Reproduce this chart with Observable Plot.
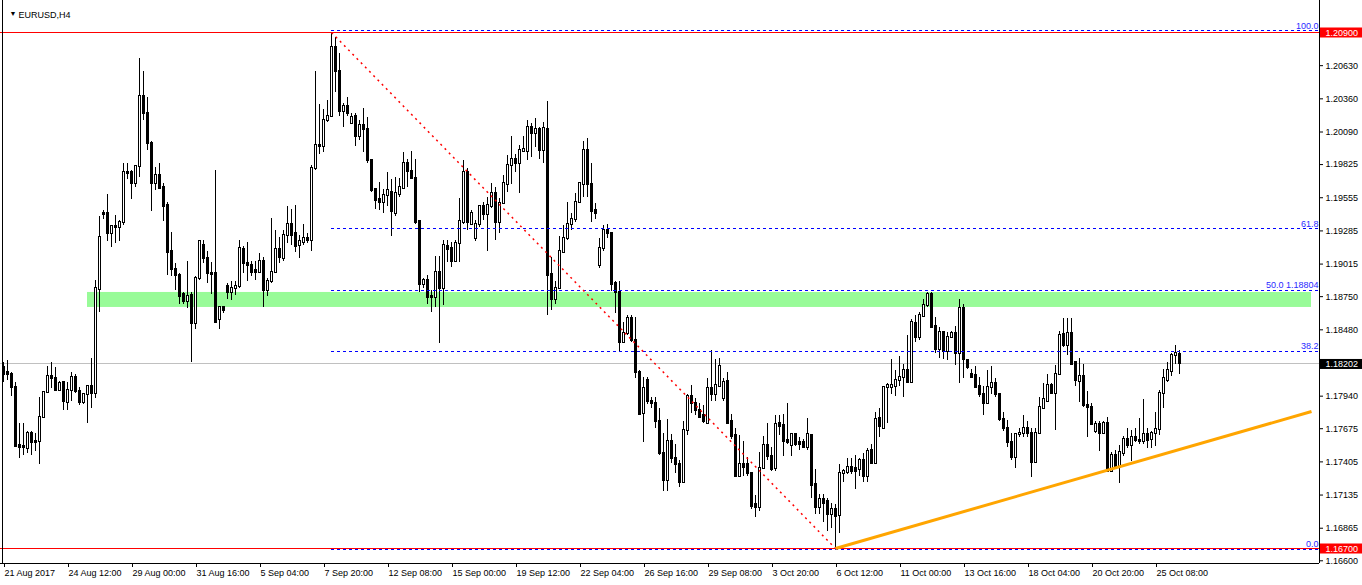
<!DOCTYPE html>
<html><head><meta charset="utf-8">
<script src="https://cdn.jsdelivr.net/npm/d3@7"></script>
<script src="https://cdn.jsdelivr.net/npm/@observablehq/plot@0.6"></script>
<style>html,body{margin:0;padding:0;background:#fff;}#chart svg{display:block;}</style>
</head><body><div id="chart"></div>
<script>
const symbol = "EURUSD,H4";

const open = [
1.1817,1.1813,1.1812,1.1801,1.1754,1.1753,1.1751,1.1764,1.1757,1.1757,
1.1777,1.1797,1.1810,1.1808,1.1799,1.1805,1.1789,1.1799,1.1809,1.1798,
1.1789,1.1795,1.1802,1.1796,1.1881,1.1943,1.1943,1.1926,1.1932,1.1931,
1.1935,1.1976,1.1976,1.1967,1.1981,1.2038,1.2024,1.2000,1.1967,1.1974,
1.1964,1.1949,1.1912,1.1897,1.1892,1.1877,1.1871,1.1876,1.1853,1.1890,
1.1917,1.1906,1.1894,1.1894,1.1856,1.1866,1.1883,1.1878,1.1882,1.1883,
1.1913,1.1902,1.1900,1.1896,1.1895,1.1904,1.1880,1.1887,1.1895,1.1913,
1.1906,1.1925,1.1934,1.1926,1.1917,1.1919,1.1922,1.1921,1.1979,1.1998,
1.1997,1.2018,1.2022,1.2078,1.2058,1.2026,1.2030,1.2016,1.2022,1.2005,
1.2014,1.2011,1.1986,1.1962,1.1954,1.1952,1.1957,1.1960,1.1943,1.1958,
1.1963,1.1983,1.1977,1.1971,1.1936,1.1885,1.1888,1.1875,1.1874,1.1895,
1.1882,1.1916,1.1914,1.1904,1.1918,1.1935,1.1976,1.1934,1.1922,1.1934,
1.1948,1.1942,1.1948,1.1959,1.1935,1.1951,1.1966,1.1982,1.1987,1.1983,
1.1993,1.1993,1.2013,1.2008,1.2011,1.1994,1.2011,1.1893,1.1873,1.1882,
1.1911,1.1922,1.1934,1.1938,1.1952,1.1966,1.1994,1.1966,1.1945,1.1900,
1.1914,1.1929,1.1926,1.1886,1.1878,1.1838,1.1845,1.1857,1.1839,1.1813,
1.1780,1.1807,1.1790,1.1788,1.1773,1.1747,1.1725,1.1757,1.1743,1.1738,
1.1724,1.1766,1.1794,1.1788,1.1782,1.1778,1.1772,1.1800,1.1795,1.1802,
1.1792,1.1806,1.1773,1.1762,1.1729,1.1738,1.1738,1.1731,1.1706,1.1703,
1.1735,1.1754,1.1745,1.1735,1.1772,1.1770,1.1758,1.1754,1.1763,1.1756,
1.1756,1.1752,1.1762,1.1722,1.1703,1.1710,1.1708,1.1698,1.1702,1.1697,
1.1731,1.1732,1.1736,1.1735,1.1734,1.1742,1.1729,1.1750,1.1739,1.1776,
1.1768,1.1801,1.1801,1.1802,1.1807,1.1809,1.1815,1.1805,1.1853,1.1842,
1.1859,1.1868,1.1877,1.1851,1.1832,1.1846,1.1830,1.1842,1.1845,1.1829,
1.1865,1.1823,1.1812,1.1811,1.1802,1.1795,1.1788,1.1801,1.1804,1.1795,
1.1775,1.1768,1.1756,1.1744,1.1763,1.1764,1.1768,1.1764,1.1740,1.1764,
1.1784,1.1790,1.1803,1.1796,1.1812,1.1844,1.1835,1.1845,1.1821,1.1806,
1.1810,1.1786,1.1785,1.1765,1.1771,1.1764,1.1772,1.1733,1.1746,1.1736,
1.1747,1.1759,1.1754,1.1760,1.1758,1.1757,1.1763,1.1759,1.1764,1.1767,
1.1796,1.1807,1.1814,1.1827,1.1828];

const high = [
1.1821,1.1823,1.1813,1.1805,1.1772,1.1772,1.1765,1.1765,1.1764,1.1793,
1.1798,1.1818,1.1821,1.1817,1.1806,1.1806,1.1805,1.1813,1.1812,1.1801,
1.1796,1.1803,1.1825,1.1888,1.1940,1.1945,1.1958,1.1933,1.1941,1.1937,
1.1983,1.1983,1.1978,1.1982,1.2069,1.2058,1.2037,1.2001,1.1980,1.1983,
1.1967,1.1952,1.1927,1.1902,1.1894,1.1878,1.1904,1.1878,1.1891,1.1921,
1.1921,1.1912,1.1903,1.1978,1.1867,1.1867,1.1886,1.1887,1.1887,1.1921,
1.1916,1.1919,1.1904,1.1904,1.1910,1.1907,1.1890,1.1939,1.1929,1.1923,
1.1929,1.1948,1.1946,1.1949,1.1925,1.1934,1.1926,1.1982,1.2058,1.2031,
1.2027,1.2035,1.2090,1.2086,1.2073,1.2032,1.2037,1.2024,1.2024,1.2018,
1.2028,1.2021,1.1987,1.1963,1.1968,1.1962,1.1976,1.1970,1.1972,1.1971,
1.1992,1.1987,1.1993,1.1987,1.1937,1.1890,1.1892,1.1880,1.1908,1.1908,
1.1921,1.1921,1.1919,1.1921,1.1955,1.1986,1.1979,1.1945,1.1937,1.1949,
1.1952,1.1956,1.1967,1.1964,1.1955,1.1974,1.1990,1.2005,1.1991,1.1998,
1.2005,1.2018,1.2016,1.2020,1.2013,1.2017,1.2034,1.1907,1.1887,1.1924,
1.1933,1.1952,1.1943,1.1959,1.1968,1.2001,1.2004,1.1983,1.1951,1.1922,
1.1933,1.1934,1.1927,1.1887,1.1887,1.1854,1.1860,1.1860,1.1858,1.1815,
1.1809,1.1809,1.1793,1.1793,1.1784,1.1764,1.1775,1.1763,1.1755,1.1742,
1.1773,1.1795,1.1803,1.1792,1.1788,1.1786,1.1808,1.1831,1.1824,1.1825,
1.1808,1.1813,1.1779,1.1768,1.1762,1.1757,1.1744,1.1732,1.1713,1.1748,
1.1761,1.1772,1.1752,1.1778,1.1778,1.1779,1.1788,1.1764,1.1764,1.1760,
1.1759,1.1776,1.1763,1.1734,1.1714,1.1714,1.1711,1.1707,1.1706,1.1738,
1.1734,1.1743,1.1743,1.1746,1.1743,1.1747,1.1751,1.1755,1.1781,1.1784,
1.1802,1.1804,1.1824,1.1815,1.1826,1.1820,1.1843,1.1856,1.1860,1.1862,
1.1873,1.1878,1.1878,1.1858,1.1850,1.1847,1.1846,1.1847,1.1851,1.1873,
1.1869,1.1824,1.1816,1.1818,1.1809,1.1802,1.1815,1.1818,1.1808,1.1796,
1.1781,1.1774,1.1764,1.1764,1.1768,1.1778,1.1773,1.1768,1.1768,1.1793,
1.1804,1.1812,1.1804,1.1819,1.1847,1.1857,1.1857,1.1857,1.1822,1.1825,
1.1820,1.1798,1.1788,1.1773,1.1773,1.1773,1.1777,1.1748,1.1750,1.1754,
1.1761,1.1768,1.1766,1.1768,1.1776,1.1791,1.1768,1.1765,1.1781,1.1799,
1.1816,1.1821,1.1829,1.1835,1.1831];

const low = [
1.1805,1.1807,1.1794,1.1752,1.1743,1.1746,1.1747,1.1746,1.1749,1.1738,
1.1776,1.1796,1.1800,1.1798,1.1798,1.1782,1.1782,1.1790,1.1796,1.1786,
1.1787,1.1772,1.1784,1.1792,1.1862,1.1938,1.1920,1.1915,1.1918,1.1920,
1.1933,1.1970,1.1954,1.1964,1.1972,1.2018,1.1994,1.1944,1.1961,1.1962,
1.1936,1.1892,1.1891,1.1880,1.1869,1.1869,1.1865,1.1821,1.1848,1.1888,
1.1902,1.1886,1.1877,1.1853,1.1848,1.1861,1.1873,1.1872,1.1876,1.1882,
1.1894,1.1887,1.1891,1.1888,1.1894,1.1866,1.1875,1.1886,1.1894,1.1902,
1.1904,1.1918,1.1917,1.1911,1.1906,1.1917,1.1918,1.1912,1.1978,1.1991,
1.1992,1.2017,1.2021,1.2041,1.2022,1.2013,1.2022,1.2016,1.1997,1.2002,
1.1992,1.1983,1.1960,1.1946,1.1945,1.1943,1.1948,1.1924,1.1940,1.1956,
1.1963,1.1964,1.1970,1.1934,1.1878,1.1882,1.1869,1.1862,1.1866,1.1837,
1.1868,1.1903,1.1899,1.1903,1.1903,1.1934,1.1929,1.1934,1.1920,1.1931,
1.1937,1.1912,1.1947,1.1921,1.1926,1.1950,1.1960,1.1966,1.1976,1.1959,
1.1992,1.1986,1.1988,1.1996,1.1987,1.1983,1.1860,1.1864,1.1869,1.1881,
1.1910,1.1921,1.1929,1.1935,1.1951,1.1956,1.1956,1.1935,1.1938,1.1898,
1.1912,1.1922,1.1879,1.1861,1.1830,1.1837,1.1843,1.1838,1.1808,1.1778,
1.1756,1.1787,1.1784,1.1768,1.1746,1.1716,1.1716,1.1739,1.1731,1.1720,
1.1723,1.1762,1.1780,1.1778,1.1776,1.1772,1.1771,1.1790,1.1790,1.1801,
1.1790,1.1771,1.1759,1.1728,1.1728,1.1729,1.1729,1.1702,1.1695,1.1700,
1.1734,1.1742,1.1733,1.1733,1.1762,1.1745,1.1755,1.1745,1.1753,1.1750,
1.1751,1.1750,1.1711,1.1698,1.1698,1.1691,1.1684,1.1686,1.1670,1.1682,
1.1724,1.1730,1.1730,1.1718,1.1729,1.1724,1.1724,1.1738,1.1738,1.1760,
1.1767,1.1772,1.1795,1.1794,1.1802,1.1793,1.1804,1.1804,1.1838,1.1839,
1.1858,1.1866,1.1849,1.1829,1.1825,1.1824,1.1823,1.1841,1.1819,1.1804,
1.1808,1.1816,1.1808,1.1800,1.1793,1.1778,1.1787,1.1795,1.1793,1.1773,
1.1765,1.1752,1.1742,1.1735,1.1760,1.1760,1.1760,1.1728,1.1739,1.1763,
1.1783,1.1789,1.1795,1.1766,1.1811,1.1834,1.1827,1.1819,1.1802,1.1789,
1.1785,1.1760,1.1770,1.1764,1.1749,1.1763,1.1732,1.1732,1.1734,1.1723,
1.1745,1.1751,1.1741,1.1756,1.1755,1.1755,1.1751,1.1751,1.1753,1.1762,
1.1784,1.1805,1.1810,1.1820,1.1812];

const close = [
1.1812,1.1812,1.1801,1.1753,1.1752,1.1752,1.1764,1.1756,1.1756,1.1777,
1.1797,1.1810,1.1808,1.1799,1.1804,1.1790,1.1799,1.1809,1.1798,1.1789,
1.1795,1.1802,1.1796,1.1882,1.1923,1.1942,1.1926,1.1932,1.1931,1.1935,
1.1976,1.1975,1.1967,1.1981,1.2038,1.2024,1.2000,1.1967,1.1974,1.1963,
1.1948,1.1911,1.1897,1.1892,1.1875,1.1871,1.1875,1.1853,1.1890,1.1920,
1.1906,1.1894,1.1893,1.1854,1.1866,1.1864,1.1878,1.1882,1.1883,1.1914,
1.1902,1.1900,1.1895,1.1895,1.1904,1.1880,1.1887,1.1895,1.1913,1.1907,
1.1925,1.1934,1.1925,1.1916,1.1920,1.1922,1.1921,1.1979,1.1998,1.1997,
1.2018,1.2022,1.2078,1.2058,1.2026,1.2030,1.2024,1.2021,1.2005,1.2014,
1.2011,1.1986,1.1961,1.1953,1.1952,1.1957,1.1961,1.1944,1.1959,1.1964,
1.1983,1.1977,1.1971,1.1935,1.1885,1.1888,1.1874,1.1874,1.1895,1.1882,
1.1917,1.1913,1.1904,1.1918,1.1936,1.1976,1.1935,1.1943,1.1934,1.1948,
1.1942,1.1949,1.1959,1.1935,1.1951,1.1967,1.1982,1.1987,1.1983,1.1994,
1.1995,1.2013,1.2008,1.2011,1.1994,1.2012,1.1892,1.1873,1.1882,1.1912,
1.1922,1.1934,1.1938,1.1952,1.1967,1.1994,1.1966,1.1944,1.1943,1.1914,
1.1929,1.1926,1.1885,1.1878,1.1838,1.1845,1.1857,1.1839,1.1813,1.1779,
1.1800,1.1790,1.1788,1.1773,1.1747,1.1725,1.1757,1.1743,1.1738,1.1724,
1.1766,1.1794,1.1788,1.1782,1.1777,1.1773,1.1800,1.1795,1.1803,1.1818,
1.1805,1.1772,1.1761,1.1729,1.1738,1.1736,1.1731,1.1704,1.1703,1.1735,
1.1754,1.1745,1.1734,1.1771,1.1769,1.1757,1.1756,1.1763,1.1755,1.1755,
1.1752,1.1763,1.1721,1.1703,1.1710,1.1707,1.1698,1.1702,1.1696,1.1731,
1.1733,1.1736,1.1733,1.1733,1.1742,1.1729,1.1749,1.1739,1.1775,1.1769,
1.1801,1.1803,1.1803,1.1807,1.1809,1.1815,1.1805,1.1854,1.1842,1.1860,
1.1868,1.1877,1.1850,1.1832,1.1846,1.1830,1.1842,1.1845,1.1829,1.1865,
1.1824,1.1817,1.1809,1.1801,1.1795,1.1788,1.1801,1.1804,1.1795,1.1775,
1.1768,1.1756,1.1744,1.1763,1.1764,1.1768,1.1764,1.1740,1.1764,1.1785,
1.1791,1.1803,1.1796,1.1812,1.1843,1.1835,1.1845,1.1820,1.1807,1.1810,
1.1786,1.1785,1.1771,1.1771,1.1764,1.1772,1.1733,1.1746,1.1736,1.1748,
1.1759,1.1754,1.1760,1.1758,1.1757,1.1763,1.1758,1.1764,1.1767,1.1796,
1.1808,1.1815,1.1827,1.1829,1.18202];

const dateTickIndex = [0,16,32,48,64,80,96,112,128,144,160,176,192,208,224,240,256,272,288];
const dateTickLabels = ["21 Aug 2017","24 Aug 12:00","29 Aug 00:00","31 Aug 16:00","5 Sep 04:00",
  "7 Sep 20:00","12 Sep 08:00","15 Sep 00:00","19 Sep 12:00","22 Sep 04:00","26 Sep 16:00",
  "29 Sep 08:00","3 Oct 20:00","6 Oct 12:00","11 Oct 00:00","13 Oct 16:00","18 Oct 04:00",
  "20 Oct 20:00","25 Oct 08:00"];

const priceTicks = [1.20630,1.20360,1.20090,1.19825,1.19555,1.19285,1.19015,1.18750,1.18480,
  1.17940,1.17675,1.17405,1.17135,1.16865,1.16600];

const lastPrice = 1.18202;
const hLinePrices = [1.20900, 1.16700];

const fibHigh = 1.20915, fibLow = 1.16693, fibStartBar = 82;
const fibLevels = [0, 38.2, 50, 61.8, 100];
const fibLabels = ["0.0", "38.2", "50.0 1.18804", "61.8", "100.0"];

const swingLine = {x1: 82, y1: 1.20900, x2: 208, y2: 1.16700};
const trendLine = {x1: 208, y1: 1.16700, x2: 327, y2: 1.17815};
const zone = {x1: 21, x2: 327, y1: 1.18662, y2: 1.18784};

// ---- build ----
const candles = open.map((o, i) => ({i, o, h: high[i], l: low[i], c: close[i]}));
const bulls = candles.filter(d => d.c >= d.o);
const bears = candles.filter(d => d.c < d.o);
const fibs = fibLevels.map((lv, k) => ({p: fibLow + lv / 100 * (fibHigh - fibLow), label: fibLabels[k]}));
const labelOf = new Map(dateTickIndex.map((d, k) => [d, dateTickLabels[k]]));

const xMin = -0.75, xMax = 329, xOuter = 339.75;
const yMin = 1.165779, yMax = 1.2116047;
const boxes = [
  {p: hLinePrices[0], fill: "#ff0000"},
  {p: hLinePrices[1], fill: "#ff0000"},
  {p: lastPrice, fill: "#000000"}
];

const chart = Plot.plot({
  width: 1362, height: 585,
  marginLeft: 0, marginRight: 43, marginTop: 0, marginBottom: 22,
  style: {fontFamily: "'Liberation Sans', Arial, sans-serif", fontSize: "9px", background: "#fff", overflow: "visible", color: "#000"},
  x: {type: "linear", domain: [xMin, xMax]},
  y: {domain: [yMin, yMax], label: null},
  marks: [
    Plot.rect([zone], {x1: "x1", x2: "x2", y1: "y1", y2: "y2", fill: "#98fb98"}),
    Plot.ruleY([lastPrice], {stroke: "#c0c0c0", shapeRendering: "crispEdges"}),
    Plot.ruleX(candles, {x: "i", y1: "l", y2: "h", stroke: "#000", shapeRendering: "crispEdges"}),
    Plot.rect(bears, {x1: d => d.i - 0.125, x2: d => d.i + 0.375, y1: "o", y2: "c", fill: "#000", stroke: "#000",
      insetTop: -0.5, insetBottom: -0.5, shapeRendering: "crispEdges"}),
    Plot.rect(bulls, {x1: d => d.i - 0.125, x2: d => d.i + 0.375, y1: "o", y2: "c", fill: "#fff", stroke: "#000",
      insetTop: -0.5, insetBottom: -0.5, shapeRendering: "crispEdges"}),
    Plot.ruleY(hLinePrices, {stroke: "#ff0000", shapeRendering: "crispEdges"}),
    Plot.ruleY(fibs, {y: "p", x1: fibStartBar, x2: xMax, stroke: "#0000ff", strokeDasharray: "3,3", shapeRendering: "crispEdges"}),
    Plot.text(fibs, {y: "p", x: xMax - 0.25, text: "label", textAnchor: "end", dy: -5, fill: "#2a2aff"}),
    Plot.link([swingLine], {x1: "x1", y1: "y1", x2: "x2", y2: "y2", stroke: "#ff0000", strokeWidth: 1.5, strokeDasharray: "2,4"}),
    Plot.link([trendLine], {x1: "x1", y1: "y1", x2: "x2", y2: "y2", stroke: "#ffa500", strokeWidth: 3}),
    // frame
    Plot.ruleX([xMax], {stroke: "#000"}),
    Plot.ruleX([xMin + 0.5], {stroke: "#000"}),
    Plot.ruleY([yMin], {stroke: "#000"}),
    Plot.axisY(priceTicks, {anchor: "right", tickSize: 3, tickPadding: 3, label: null,
      tickFormat: d => d.toFixed(5), fontSize: 9}),
    Plot.axisX(dateTickIndex, {anchor: "bottom", tickSize: 4, tickPadding: 2, label: null,
      tickFormat: d => labelOf.get(d), textAnchor: "start", dx: 1, fontSize: 9}),
    Plot.rect(boxes, {x1: xMax, x2: xOuter, y1: "p", y2: "p", fill: "fill", insetLeft: 1,
      insetTop: -4.5, insetBottom: -5.5}),
    Plot.text(boxes, {x: xMax, y: "p", text: d => d.p.toFixed(5), textAnchor: "start", dx: 6, dy: 0.5, fill: "#fff"}),
    Plot.text(["\u25BC"], {frameAnchor: "top-left", dx: 9, dy: 11, fontSize: 7, fill: "#000"}),
    Plot.text([symbol], {frameAnchor: "top-left", dx: 18, dy: 11, textAnchor: "start", fill: "#000"})
  ]
});
document.getElementById("chart").appendChild(chart);
</script>
</body></html>
